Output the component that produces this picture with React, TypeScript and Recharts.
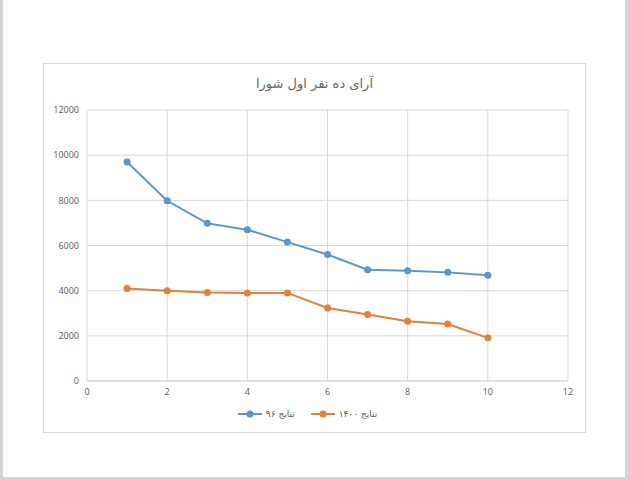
import React from "react";
import { LineChart, Line, XAxis, YAxis, CartesianGrid, Legend } from "recharts";

const xValues = [1, 2, 3, 4, 5, 6, 7, 8, 9, 10];
const results96 = [9700, 7980, 6980, 6700, 6150, 5600, 4930, 4880, 4810, 4680];
const results1400 = [4100, 4000, 3920, 3900, 3900, 3230, 2940, 2650, 2520, 1910];
const xTicks = [0, 2, 4, 6, 8, 10, 12];
const yTicks = [0, 2000, 4000, 6000, 8000, 10000, 12000];
const title = "آرای ده نفر اول شورا";
const name96 = "نتایج ۹۶";
const name1400 = "نتایج ۱۴۰۰";

const BLUE = "#5B95CE";
const ORANGE = "#E5803A";

const data = xValues.map((x, i) => ({ x, a: results96[i], b: results1400[i] }));

const fontFamily = "'Open Sans', 'DejaVu Sans', sans-serif";

const LegendContent = () => {
  const items = [
    { label: name96, color: BLUE },
    { label: name1400, color: ORANGE },
  ];
  return (
    <div style={{ display: "flex", justifyContent: "center", alignItems: "center", gap: 16, height: 20 }}>
      {items.map((it) => (
        <div key={it.label} style={{ display: "flex", alignItems: "center", gap: 4 }}>
          <svg width={24} height={10}>
            <line x1={0} y1={5} x2={24} y2={5} stroke={it.color} strokeWidth={2} />
            <circle cx={12} cy={5} r={3.5} fill={it.color} />
          </svg>
          <span style={{ fontSize: 9, color: "#595959", fontFamily: "'DejaVu Sans', sans-serif" }}>{it.label}</span>
        </div>
      ))}
    </div>
  );
};

export default function App() {
  return (
    <div
      style={{
        position: "absolute",
        left: 0,
        top: 0,
        width: 629,
        height: 480,
        boxSizing: "border-box",
        borderLeft: "3px solid #d4d4d4",
        borderRight: "4px solid #d4d4d4",
        borderBottom: "3px solid #d4d4d4",
        background: "#fff",
      }}
    >
      <div
        style={{
          position: "absolute",
          left: 40,
          top: 63,
          width: 543,
          height: 370,
          boxSizing: "border-box",
          border: "1px solid #d9d9d9",
          background: "#fff",
        }}
      >
        <div
          style={{
            position: "absolute",
            left: 0,
            top: 12,
            width: 541,
            textAlign: "center",
            fontSize: 13,
            color: "#666666",
            fontFamily: "'DejaVu Sans', sans-serif",
          }}
        >
          {title}
        </div>
        <LineChart
          width={541}
          height={368}
          data={data}
          margin={{ top: 46, right: 17, bottom: 8, left: 3 }}
        >
          <CartesianGrid stroke="#d9d9d9" strokeWidth={1} />
          <XAxis
            dataKey="x"
            type="number"
            domain={[0, 12]}
            ticks={xTicks}
            height={23}
            axisLine={{ stroke: "#d9d9d9" }}
            tickLine={false}
            tick={{ fontSize: 9, fill: "#595959", fontFamily }}
          />
          <YAxis
            type="number"
            domain={[0, 12000]}
            ticks={yTicks}
            width={40}
            axisLine={false}
            tickLine={false}
            tick={{ fontSize: 9, fill: "#595959", fontFamily }}
          />
          <Legend verticalAlign="bottom" content={<LegendContent />} />
          <Line
            dataKey="a"
            name={name96}
            stroke={BLUE}
            strokeWidth={2}
            dot={{ r: 3.5, fill: BLUE, stroke: BLUE, strokeWidth: 0 }}
            isAnimationActive={false}
            type="linear"
          />
          <Line
            dataKey="b"
            name={name1400}
            stroke={ORANGE}
            strokeWidth={2}
            dot={{ r: 3.5, fill: ORANGE, stroke: ORANGE, strokeWidth: 0 }}
            isAnimationActive={false}
            type="linear"
          />
        </LineChart>
      </div>
    </div>
  );
}
